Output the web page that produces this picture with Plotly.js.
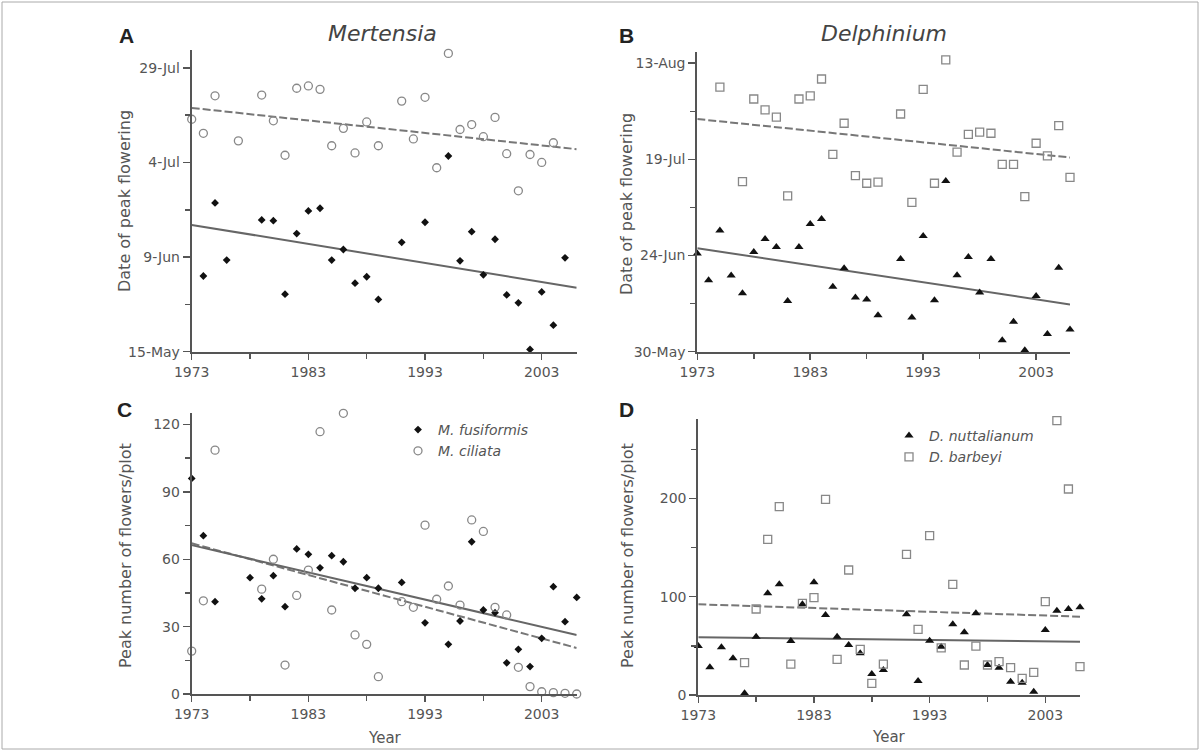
<!DOCTYPE html>
<html><head><meta charset="utf-8">
<script src="https://cdn.plot.ly/plotly-3.0.1.min.js"></script>
<style>html,body{margin:0;padding:0;background:#fff;} #chart{width:1201px;height:752px;}</style>
</head><body><div id="chart"></div>
<script>
// ---------- DATA ----------
// Panel A: Mertensia, date of peak flowering (day of year)
const yrsA_fus = [1974,1975,1976,1979,1980,1981,1982,1983,1984,1985,1986,1987,1988,1989,1991,1993,1995,1996,1997,1998,1999,2000,2001,2002,2003,2004,2005];
const doyA_fus = [155.0,174.3,159.2,169.8,169.6,150.2,166.2,172.2,172.9,159.2,162.0,153.1,154.8,148.8,163.9,169.2,186.7,159.0,166.7,155.3,164.7,150.0,147.9,135.6,150.8,142.0,159.8];
const yrsA_cil = [1973,1974,1975,1977,1979,1980,1981,1982,1983,1984,1985,1986,1987,1988,1989,1991,1992,1993,1994,1995,1996,1997,1998,1999,2000,2001,2002,2003,2004];
const doyA_cil = [196.4,192.7,202.6,190.7,202.8,196.0,186.9,204.6,205.2,204.3,189.4,194.0,187.5,195.7,189.4,201.2,191.2,202.2,183.6,213.8,193.7,195.0,191.8,196.9,187.3,177.5,187.1,185.0,190.2];
// Panel B: Delphinium, date of peak flowering (day of year)
const yrsB_nut = [1973,1974,1975,1976,1977,1978,1979,1980,1981,1982,1983,1984,1985,1986,1987,1988,1989,1991,1992,1993,1994,1995,1996,1997,1998,1999,2000,2001,2002,2003,2004,2005,2006];
const doyB_nut = [175.5,168.6,181.5,169.8,165.2,175.9,179.3,177.2,163.2,177.2,183.2,184.5,166.9,171.7,164.1,163.6,159.5,174.1,158.9,180.1,163.4,194.4,169.9,174.6,165.4,174.1,153.0,157.8,150.4,164.5,154.6,171.8,155.8];
const yrsB_bar = [1975,1977,1978,1979,1980,1981,1982,1983,1984,1985,1986,1987,1988,1989,1991,1992,1993,1994,1995,1996,1997,1998,1999,2000,2001,2002,2003,2004,2005,2006];
const doyB_bar = [218.8,194.2,215.7,212.9,211.0,190.5,215.7,216.5,220.9,201.3,209.4,195.8,193.8,194.1,211.8,188.8,218.2,193.8,225.9,201.9,206.5,207.1,206.8,198.7,198.7,190.3,204.2,200.9,208.8,195.3];
// Panel C: Mertensia, peak number of flowers/plot
const yrsC_fus = [1973,1974,1975,1978,1979,1980,1981,1982,1983,1984,1985,1986,1987,1988,1989,1991,1993,1995,1996,1997,1998,1999,2000,2001,2002,2003,2004,2005,2006];
const valC_fus = [96.0,70.5,41.1,51.8,42.4,52.7,38.9,64.6,62.2,56.2,61.6,58.9,47.1,51.8,47.1,49.7,31.7,22.1,32.5,67.8,37.4,36.2,13.9,19.9,12.2,24.8,47.8,32.2,43.0];
const yrsC_cil = [1973,1974,1975,1979,1980,1981,1982,1983,1984,1985,1986,1987,1988,1989,1991,1992,1993,1994,1995,1996,1997,1998,1999,2000,2001,2002,2003,2004,2005,2006];
const valC_cil = [19.1,41.5,108.6,46.7,60.0,12.9,43.9,55.2,116.8,37.4,125.0,26.3,22.1,7.7,41.1,38.6,75.2,42.2,48.1,39.6,77.5,72.4,38.6,35.2,11.9,3.3,1.0,0.6,0.3,0.0];
// Panel D: Delphinium, peak number of flowers/plot
const yrsD_nut = [1973,1974,1975,1976,1977,1978,1979,1980,1981,1982,1983,1984,1985,1986,1987,1988,1989,1991,1992,1993,1994,1995,1996,1997,1998,1999,2000,2001,2002,2003,2004,2005,2006];
const valD_nut = [49.8,28.2,48.5,37.3,1.7,59.3,103.5,112.6,54.9,92.3,114.6,81.4,59.3,50.9,42.4,21.4,25.4,82.1,14.2,55.2,49.1,71.9,63.8,83.1,30.5,27.8,13.5,12.5,3.4,66.1,85.8,87.5,89.2];
const yrsD_bar = [1977,1978,1979,1980,1981,1982,1983,1984,1985,1986,1987,1988,1989,1991,1992,1993,1994,1995,1996,1997,1998,1999,2000,2001,2002,2003,2004,2005,2006];
const valD_bar = [32.9,87.5,158.4,191.6,31.5,93.3,99.0,199.1,36.3,127.2,46.5,11.9,31.5,143.1,66.8,162.1,48.0,112.6,30.5,49.8,30.5,33.9,27.8,17.0,23.1,94.9,279.1,209.6,28.8];
// Regression lines (endpoints)
const fitYears = [1973, 2006];
const fitA_fus = [168.5, 151.9];
const fitA_cil = [199.4, 188.5];
const fitB_nut = [176.9, 162.3];
const fitB_bar = [210.5, 200.5];
const fitC_fus = [66.3, 26.3];
const fitC_cil = [67.1, 20.5];
const fitD_nut = [58.7, 54.2];
const fitD_bar = [92.3, 79.7];
// Ticks
const yearTicks = [1973, 1983, 1993, 2003];
const yearMinor = [1978, 1988, 1998];
const dateTicksA = [135, 160, 185, 210];
const dateLabelsA = ['15-May', '9-Jun', '4-Jul', '29-Jul'];
const dateMinorA = [147.5, 172.5, 197.5];
const dateTicksB = [150, 175, 200, 225];
const dateLabelsB = ['30-May', '24-Jun', '19-Jul', '13-Aug'];
const dateMinorB = [162.5, 187.5, 212.5];
const countTicksC = [0, 30, 60, 90, 120];
const countMinorC = [15, 45, 75, 105];
const countTicksD = [0, 100, 200];
const countMinorD = [50, 150, 250];
// Names
const genusA = 'Mertensia', genusB = 'Delphinium';
const spM1 = 'M. fusiformis', spM2 = 'M. ciliata';
const spD1 = 'D. nuttalianum', spD2 = 'D. barbeyi';

// ---------- STYLE ----------
const W = 1201, H = 752;
const px = v => v / W;
const py = v => 1 - v / H;
const AX = '#555';
const FONT = 'DejaVu Sans, Verdana, sans-serif';
const tickFont = {family: FONT, size: 14, color: '#555'};

function xAxis(x0, x1, y0anchor) {
  return {
    domain: [px(x0), px(x1)], range: [1973, 2006], anchor: y0anchor,
    tickmode: 'array', tickvals: yearTicks, ticktext: yearTicks.map(String),
    ticks: 'outside', ticklen: 6, tickwidth: 1.5, tickcolor: AX,
    minor: {tickmode: 'array', tickvals: yearMinor, ticks: 'outside', ticklen: 5, tickwidth: 1.5, tickcolor: AX},
    showline: true, linecolor: AX, linewidth: 2, showgrid: false, zeroline: false,
    tickfont: tickFont, fixedrange: true
  };
}
function yAxis(top, bottom, range, tv, tt, minor, xanchor) {
  return {
    domain: [py(bottom), py(top)], range: range, anchor: xanchor,
    tickmode: 'array', tickvals: tv, ticktext: tt,
    ticks: 'outside', ticklen: 7, tickwidth: 1.5, tickcolor: AX,
    minor: {tickmode: 'array', tickvals: minor, ticks: 'outside', ticklen: 5, tickwidth: 1.5, tickcolor: AX},
    showline: true, linecolor: AX, linewidth: 2, showgrid: false, zeroline: false,
    tickfont: tickFont, fixedrange: true
  };
}

const solid = {color: '#666', width: 2};
const dashed = {color: '#777', width: 2, dash: '8px,3px'};
const mFilledDiamond = {symbol: 'diamond', size: 6, color: '#111'};
const mOpenCircle = {symbol: 'circle-open', size: 8, color: '#888', line: {width: 1.3, color: '#888'}};
const mTriangle = {symbol: 'triangle-up', size: 8, color: '#111'};
const mOpenSquare = {symbol: 'square-open', size: 8, color: '#888', line: {width: 1.3, color: '#888'}};

function line(x, y, xa, ya, ln) {
  return {type: 'scatter', mode: 'lines', x: x, y: y, xaxis: xa, yaxis: ya, line: ln, showlegend: false, hoverinfo: 'skip', cliponaxis: false};
}
function pts(x, y, xa, ya, mk, name, leg) {
  const t = {type: 'scatter', mode: 'markers', x: x, y: y, xaxis: xa, yaxis: ya, marker: mk, name: name, cliponaxis: false};
  if (leg) { t.legend = leg; t.showlegend = true; } else { t.showlegend = false; }
  return t;
}

const data = [
  line(fitYears, fitA_cil, 'x', 'y', dashed),
  line(fitYears, fitA_fus, 'x', 'y', solid),
  pts(yrsA_cil, doyA_cil, 'x', 'y', mOpenCircle, spM2),
  pts(yrsA_fus, doyA_fus, 'x', 'y', mFilledDiamond, spM1),

  line(fitYears, fitB_bar, 'x2', 'y2', dashed),
  line(fitYears, fitB_nut, 'x2', 'y2', solid),
  pts(yrsB_bar, doyB_bar, 'x2', 'y2', mOpenSquare, spD2),
  pts(yrsB_nut, doyB_nut, 'x2', 'y2', mTriangle, spD1),

  line(fitYears, fitC_cil, 'x3', 'y3', dashed),
  line(fitYears, fitC_fus, 'x3', 'y3', solid),
  pts(yrsC_fus, valC_fus, 'x3', 'y3', mFilledDiamond, '<i>' + spM1 + '</i>', 'legend'),
  pts(yrsC_cil, valC_cil, 'x3', 'y3', mOpenCircle, '<i>' + spM2 + '</i>', 'legend'),

  line(fitYears, fitD_bar, 'x4', 'y4', dashed),
  line(fitYears, fitD_nut, 'x4', 'y4', solid),
  pts(yrsD_nut, valD_nut, 'x4', 'y4', mTriangle, '<i>' + spD1 + '</i>', 'legend2'),
  pts(yrsD_bar, valD_bar, 'x4', 'y4', mOpenSquare, '<i>' + spD2 + '</i>', 'legend2')
];

function ann(text, x, y, size, opts) {
  return Object.assign({text: text, x: px(x), y: py(y), xref: 'paper', yref: 'paper',
    xanchor: 'center', yanchor: 'middle', showarrow: false,
    font: {family: FONT, size: size, color: '#555'}}, opts || {});
}
const letterFont = {family: 'Liberation Sans, Arial, sans-serif', size: 21, color: '#222', weight: 'bold'};

const layout = {
  width: W, height: H, margin: {l: 0, r: 0, t: 0, b: 0},
  paper_bgcolor: '#fff', plot_bgcolor: 'rgba(0,0,0,0)',
  xaxis: xAxis(191.7, 576.7, 'y'),
  yaxis: yAxis(50, 351.7, [135, 214.7], dateTicksA, dateLabelsA, dateMinorA, 'x'),
  xaxis2: xAxis(697.3, 1070, 'y2'),
  yaxis2: yAxis(51.7, 351.7, [150, 228], dateTicksB, dateLabelsB, dateMinorB, 'x2'),
  xaxis3: xAxis(191.7, 576.7, 'y3'),
  yaxis3: yAxis(413.3, 694, [0, 125], countTicksC, countTicksC.map(String), countMinorC, 'x3'),
  xaxis4: xAxis(698.3, 1080, 'y4'),
  yaxis4: yAxis(419.3, 695, [0, 280.5], countTicksD, countTicksD.map(String), countMinorD, 'x4'),
  legend: {x: px(398), y: py(414), xanchor: 'left', yanchor: 'top', bgcolor: 'rgba(0,0,0,0)',
    font: {family: FONT, size: 14, color: '#555'}, tracegroupgap: 0, borderwidth: 0},
  legend2: {x: px(889), y: py(420), xanchor: 'left', yanchor: 'top', bgcolor: 'rgba(0,0,0,0)',
    font: {family: FONT, size: 14, color: '#555'}, tracegroupgap: 0, borderwidth: 0},
  annotations: [
    Object.assign(ann('A', 126, 36, 21), {font: letterFont}),
    Object.assign(ann('B', 626, 36, 21), {font: letterFont}),
    Object.assign(ann('C', 125, 409, 21), {font: letterFont}),
    Object.assign(ann('D', 626, 409, 21), {font: letterFont}),
    ann('<i>' + genusA + '</i>', 383, 33, 22, {font: {family: FONT, size: 22, color: '#444'}}),
    ann('<i>' + genusB + '</i>', 884, 33, 22, {font: {family: FONT, size: 22, color: '#444'}}),
    ann('Date of peak flowering', 125, 201, 16, {textangle: -90}),
    ann('Date of peak flowering', 627, 204, 16, {textangle: -90}),
    ann('Peak number of flowers/plot', 125, 555, 16, {textangle: -90}),
    ann('Peak number of flowers/plot', 627, 556, 16, {textangle: -90}),
    ann('Year', 385, 738, 15),
    ann('Year', 889, 737, 15)
  ],
  shapes: [
    {type: 'rect', xref: 'paper', yref: 'paper', x0: px(2), x1: px(1198), y0: py(749), y1: py(2),
     line: {color: '#aaa', width: 1}, fillcolor: 'rgba(0,0,0,0)'}
  ]
};

Plotly.newPlot('chart', data, layout, {staticPlot: true, displayModeBar: false});
</script></body></html>
